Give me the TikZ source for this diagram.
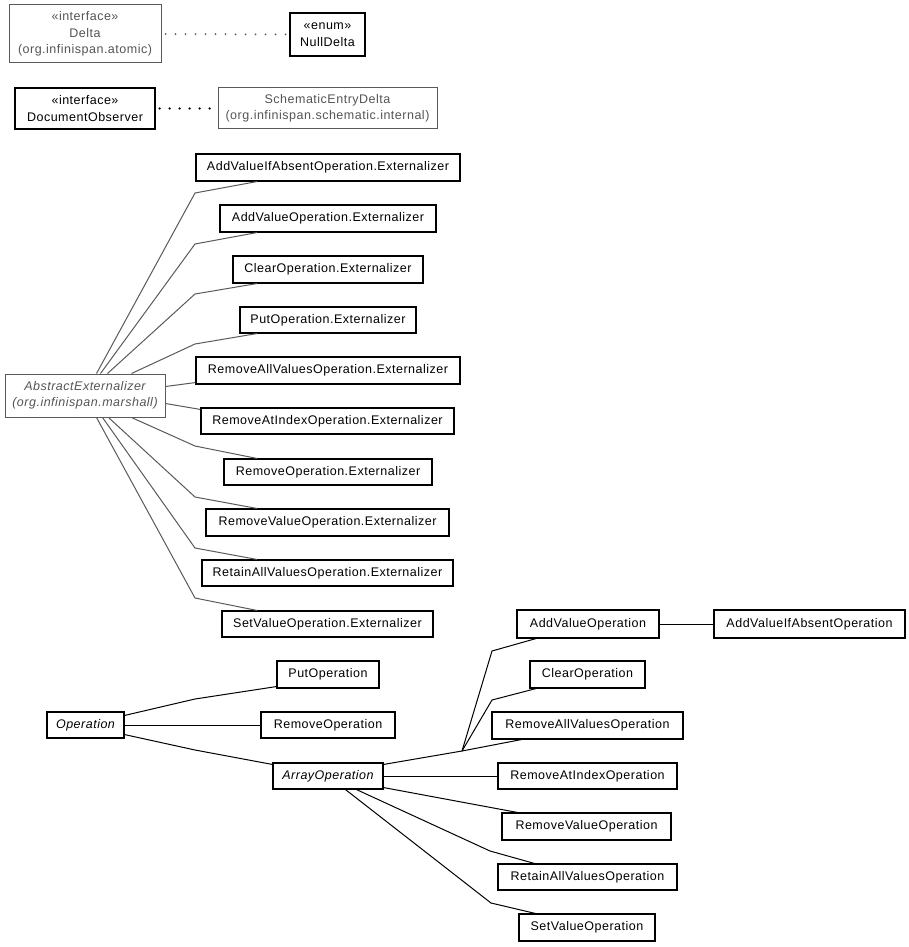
\documentclass[tikz,border=0pt]{standalone}
\usepackage{fontspec}
\setmainfont{Liberation Sans}[LetterSpace=4]
\usetikzlibrary{calc}
\definecolor{gtext}{HTML}{555555}
\definecolor{gline}{HTML}{5A5A5A}
\newcommand\bx[7]{\node[#6, minimum width={(#4)-(#2)}, minimum height={(#5)-(#3)}] (#1) at ({((#2)+(#4))/2},{((#3)+(#5))/2}) {#7};}
\begin{document}
\begin{tikzpicture}[x=1pt,y=-1pt,
  box/.style={draw=black, line width=1.1pt, inner sep=0pt, align=center, font=\fontsize{12.5}{16.5}\selectfont, text=black},
  gbox/.style={box, draw=gline, line width=1pt, text=gtext},
  ext/.style={draw=gline, line width=1pt},
  op/.style={draw=black, line width=1pt},
  dotg/.style={draw=gline, line width=2pt, line cap=round, dash pattern=on 0pt off 10pt},
  dotb/.style={draw=black, line width=2.5pt, line cap=round, dash pattern=on 0pt off 10pt},
 ]
\useasboundingbox[fill=white] (0,0) rectangle (909,947);
% top group
\bx{delta}{9}{5}{161}{63}{gbox}{«interface»\\Delta\\(org.infinispan.atomic)}
\bx{nulld}{290}{13}{365}{56}{box}{«enum»\\NullDelta}
\bx{docobs}{15}{88}{155}{129}{box}{«interface»\\DocumentObserver}
\bx{sched}{218}{88}{437}{129}{gbox}{SchematicEntryDelta\\(org.infinispan.schematic.internal)}
\draw[dotg] ($(delta.east)+(4,0)$) -- (nulld.west);
\draw[dotb] ($(docobs.east)+(4,0)$) -- (sched.west);
% externalizers
\bx{ae}{5}{374}{165}{417}{gbox}{\itshape AbstractExternalizer\\\itshape (org.infinispan.marshall)}
\bx{e1}{196}{154}{460}{181}{box}{AddValueIfAbsentOperation.Externalizer}
\bx{e2}{220}{205}{436}{232}{box}{AddValueOperation.Externalizer}
\bx{e3}{233}{256}{423}{283}{box}{ClearOperation.Externalizer}
\bx{e4}{240}{307}{416}{333}{box}{PutOperation.Externalizer}
\bx{e5}{196}{357}{460}{384}{box}{RemoveAllValuesOperation.Externalizer}
\bx{e6}{201}{408}{454}{434}{box}{RemoveAtIndexOperation.Externalizer}
\bx{e7}{224}{459}{432}{485}{box}{RemoveOperation.Externalizer}
\bx{e8}{206}{509}{449}{536}{box}{RemoveValueOperation.Externalizer}
\bx{e9}{202}{560}{453}{586}{box}{RetainAllValuesOperation.Externalizer}
\bx{e10}{222}{611}{433}{637}{box}{SetValueOperation.Externalizer}
\coordinate (xa) at (257,0);
\draw[ext] ($(ae.north west)+(92,0)$) -- (195,193) -- (e1.south -| xa);
\draw[ext] ($(ae.north west)+(96,0)$) -- (195,244) -- (e2.south -| xa);
\draw[ext] ($(ae.north west)+(103,0)$) -- (195,294) -- (e3.south -| xa);
\draw[ext] ($(ae.north west)+(127,0)$) -- (195,344) -- (e4.south -| xa);
\draw[ext] ($(ae.north east)+(0,13)$) -- ($(e5.south west)+(0,-2)$);
\draw[ext] ($(ae.north east)+(0,30)$) -- ($(e6.north west)+(0,2)$);
\draw[ext] ($(ae.south west)+(127,0)$) -- (195,446) -- (e7.north -| xa);
\draw[ext] ($(ae.south west)+(104,0)$) -- (195,497) -- (e8.north -| xa);
\draw[ext] ($(ae.south west)+(98,0)$) -- (195,548) -- (e9.north -| xa);
\draw[ext] ($(ae.south west)+(92,0)$) -- (195,598) -- (e10.north -| xa);
% operations
\bx{op}{47}{712}{124}{738}{box}{\itshape Operation}
\bx{put}{277}{661}{379}{688}{box}{PutOperation}
\bx{rem}{261}{712}{395}{738}{box}{RemoveOperation}
\bx{arr}{273}{763}{383}{789}{box}{\itshape ArrayOperation}
\bx{add}{517}{610}{659}{638}{box}{AddValueOperation}
\bx{avie}{714}{610}{905}{638}{box}{AddValueIfAbsentOperation}
\bx{clr}{530}{661}{645}{688}{box}{ClearOperation}
\bx{rav}{492}{712}{683}{739}{box}{RemoveAllValuesOperation}
\bx{rai}{498}{763}{677}{789}{box}{RemoveAtIndexOperation}
\bx{rv}{502}{813}{671}{840}{box}{RemoveValueOperation}
\bx{rtv}{498}{864}{677}{890}{box}{RetainAllValuesOperation}
\bx{sv}{519}{914}{655}{941}{box}{SetValueOperation}
\draw[op] ($(op.north east)+(0,4)$) -- (195,699) -- ($(put.south west)+(0,-2)$);
\draw[op] (op.east) -- (rem.west);
\draw[op] ($(op.south east)+(0,-4)$) -- (195,750) -- ($(arr.north west)+(0,2)$);
\coordinate (cv) at (462,751);
\coordinate (xb) at (536,0);
\draw[op] ($(arr.north east)+(0,2)$) -- (cv);
\draw[op] (cv) -- (492,651) -- (add.south -| xb);
\draw[op] (cv) -- (492,700) -- (clr.south -| xb);
\draw[op] (cv) -- ($(rav.south west)+(30,0)$);
\draw[op] (arr.east) -- (rai.west);
\draw[op] ($(arr.south east)+(0,-2)$) -- ($(rv.north west)+(16,0)$);
\draw[op] ($(arr.south west)+(84,0)$) -- (490,851) -- ($(rtv.north west)+(37,0)$);
\draw[op] ($(arr.south west)+(73,0)$) -- (491,903) -- ($(sv.north west)+(17,0)$);
\draw[op] (add.east) -- (avie.west);
\end{tikzpicture}
\end{document}
